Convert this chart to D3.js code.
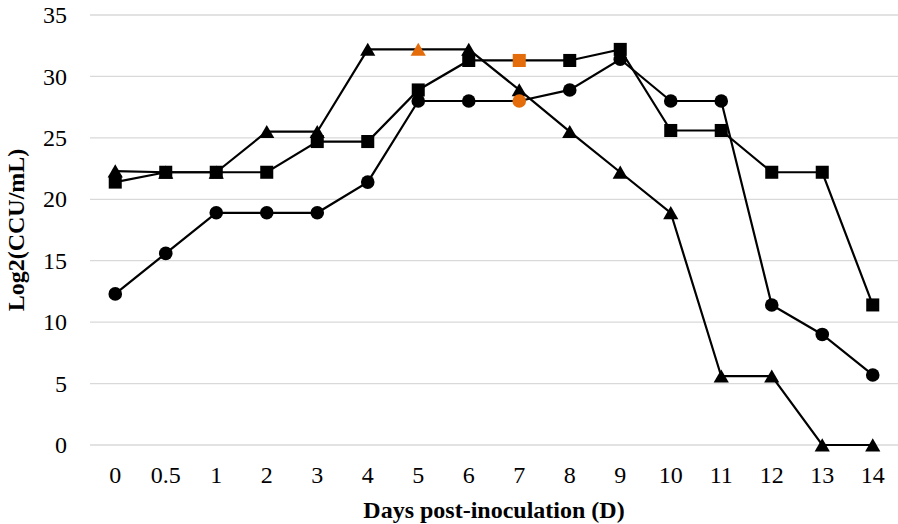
<!DOCTYPE html>
<html>
<head>
<meta charset="utf-8">
<script src="https://cdn.jsdelivr.net/npm/d3@7"></script>
<style>
html,body{margin:0;padding:0;background:#fff;}
svg{display:block;}
</style>
</head>
<body>
<svg id="chart" width="898" height="524"></svg>
<script>
const categories = ["0","0.5","1","2","3","4","5","6","7","8","9","10","11","12","13","14"];
const triangleValues = [22.3,22.2,22.2,25.5,25.5,32.2,32.2,32.2,28.9,25.5,22.2,18.9,5.6,5.6,0,0];
const squareValues   = [21.4,22.2,22.2,22.2,24.7,24.7,28.9,31.3,31.3,31.3,32.2,25.6,25.6,22.2,22.2,11.4];
const circleValues   = [12.3,15.6,18.9,18.9,18.9,21.4,28.0,28.0,28.0,28.9,31.4,28.0,28.0,11.4,9.0,5.7];
const yTicks = [0,5,10,15,20,25,30,35];
const triangleHighlight = ["5"];
const squareHighlight = ["7"];
const circleHighlight = ["7"];

const svg = d3.select("#chart");
const margin = {left: 90, right: 0, top: 15, bottom: 79};
const W = 898, H = 524;
const x = d3.scaleBand().domain(categories).range([margin.left, W - margin.right]).padding(0);
const y = d3.scaleLinear().domain([0, 35]).range([H - margin.bottom, margin.top]);
const cx = d => x(d) + x.bandwidth() / 2;

const font = "'Liberation Serif','Times New Roman',serif";
const fs = 24;

// gridlines
svg.append("g").selectAll("line").data(yTicks).join("line")
  .attr("x1", margin.left).attr("x2", W - margin.right)
  .attr("y1", d => y(d)).attr("y2", d => y(d))
  .attr("stroke", "#d9d9d9").attr("stroke-width", 1.3);

// y axis
const yAxis = d3.axisLeft(y).tickValues(yTicks).tickSize(0).tickPadding(23);
const gy = svg.append("g").attr("transform", `translate(${margin.left},0)`).call(yAxis);
gy.select(".domain").remove();
gy.selectAll("text").attr("font-family", font).attr("font-size", fs).attr("fill", "#000");

// x axis
const xAxis = d3.axisBottom(x).tickSize(0).tickPadding(21);
const gx = svg.append("g").attr("transform", `translate(0,${y(0)})`).call(xAxis);
gx.select(".domain").remove();
gx.selectAll("text").attr("font-family", font).attr("font-size", fs).attr("fill", "#000");

// titles
svg.append("text").attr("x", (margin.left + W - margin.right) / 2).attr("y", 518)
  .attr("text-anchor", "middle").attr("font-family", font).attr("font-weight", "bold")
  .attr("font-size", fs).text("Days post-inoculation (D)");
svg.append("text").attr("transform", `translate(24,${y(17.5)}) rotate(-90)`)
  .attr("text-anchor", "middle").attr("font-family", font).attr("font-weight", "bold")
  .attr("font-size", fs).text("Log2(CCU/mL)");

const line = d3.line().x(d => cx(d.c)).y(d => y(d.v));
const series = [
  {name: "triangle", values: triangleValues, sym: d3.symbolTriangle, size: 100, hi: triangleHighlight},
  {name: "square", values: squareValues, sym: d3.symbolSquare, size: 170, hi: squareHighlight},
  {name: "circle", values: circleValues, sym: d3.symbolCircle, size: 145, hi: circleHighlight}
];
series.forEach(s => {
  const pts = categories.map((c, i) => ({c, v: s.values[i]}));
  svg.append("path").datum(pts).attr("d", line).attr("fill", "none")
    .attr("stroke", "#000").attr("stroke-width", 2.2);
});
series.forEach(s => {
  const pts = categories.map((c, i) => ({c, v: s.values[i]}));
  svg.append("g").selectAll("path").data(pts).join("path")
    .attr("d", d3.symbol().type(s.sym).size(s.size))
    .attr("transform", d => `translate(${cx(d.c)},${y(d.v) + (s.name === "triangle" ? 2 : 0)})`)
    .attr("fill", d => s.hi.includes(d.c) ? "#e46c0a" : "#000");
});
</script>
</body>
</html>
